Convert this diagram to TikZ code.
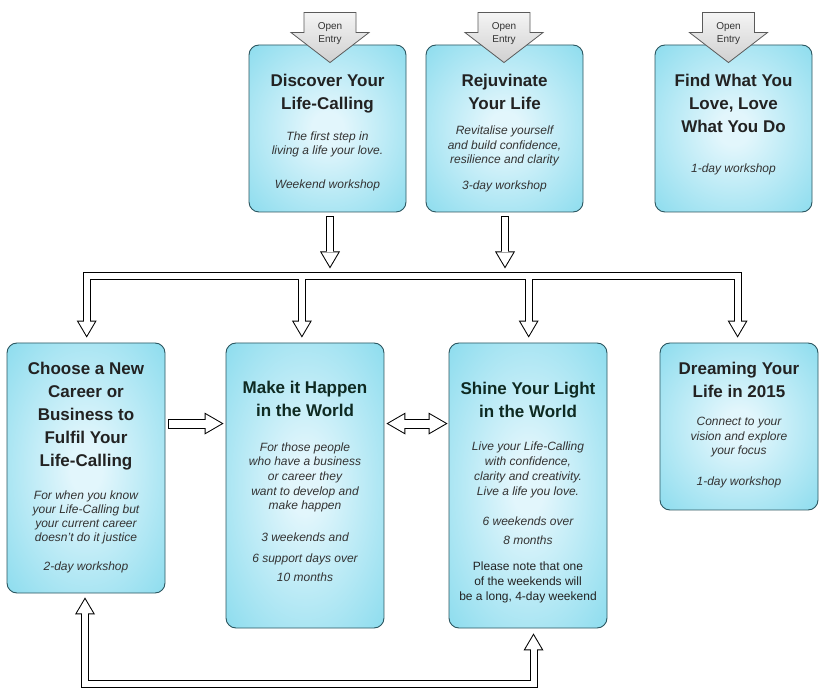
\documentclass[tikz,border=0pt]{standalone}
\usepackage{fontspec}
\setmainfont{Liberation Sans}
\usetikzlibrary{arrows.meta,calc}
\definecolor{boxin}{HTML}{E2F6FC}
\definecolor{boxout}{HTML}{7BD7EB}
\definecolor{boxline}{HTML}{2B5660}
\definecolor{titlecol}{HTML}{222222}
\definecolor{titlegreen}{HTML}{0E2A22}
\definecolor{desccol}{HTML}{333333}
\definecolor{entrytop}{HTML}{F4F4F4}
\definecolor{entrybot}{HTML}{D0D0D0}
\definecolor{entryline}{HTML}{5A5A5A}
\pgfdeclareradialshading{boxshade}{\pgfpoint{0bp}{0bp}}{color(0bp)=(boxin); color(5bp)=(boxin); color(42bp)=(boxout); color(50bp)=(boxout)}
\newcommand\openentry[3]{%
  \coordinate (#3-c) at ($(#1.north)+(#2,0)$);
  \draw[entryarrow] ($(#3-c)+(-26,-32)$) -- ($(#3-c)+(26,-32)$) -- ($(#3-c)+(26,-12)$) -- ($(#3-c)+(39,-12)$) -- ($(#3-c)+(0,18)$) -- ($(#3-c)+(-39,-12)$) -- ($(#3-c)+(-26,-12)$) -- cycle;
  \node[entrytext] (#3) at ($(#3-c)+(0,-11)$) {Open\\Entry};
}
\begin{document}
\begin{tikzpicture}[x=1pt,y=-1pt,
  box/.style={draw=boxline, line width=0.9pt, rounded corners=10pt, shading=boxshade, inner sep=0pt},
  title/.style={font=\fontsize{17}{23}\selectfont\bfseries, text=titlecol, align=center, anchor=base, inner sep=0pt},
  gtitle/.style={title, text=titlegreen},
  desc/.style={font=\fontsize{12}{#1}\selectfont\itshape, text=desccol, align=center, anchor=base, inner sep=0pt},
  desc/.default=14.5,
  note/.style={font=\fontsize{12}{15}\selectfont, text=titlecol, align=center, anchor=base, inner sep=0pt},
  entrytext/.style={font=\fontsize{10}{13}\selectfont, text=desccol, align=center, inner sep=0pt},
  entryarrow/.style={draw=entryline, line width=0.8pt, top color=entrytop, bottom color=entrybot, line join=miter},
  blk/.style={draw=black, line width=8pt},
  wht/.style={draw=white, line width=6pt},
  blkh/.style={draw=black, line width=10pt},
  whth/.style={draw=white, line width=8pt},
  bt/.tip={Triangle[length=17pt,width=20pt,line width=0pt]},
  wt/.tip={Triangle[length=14pt,width=16.5pt,line width=0pt]},
  bth/.tip={Triangle[length=19pt,width=22pt,line width=0pt]},
  wth/.tip={Triangle[length=16pt,width=18.5pt,line width=0pt]},
]
\useasboundingbox[fill=white] (0,0) rectangle (820,700);

% boxes
\node[box, minimum width=157pt, minimum height=167pt] (disc) at (327.5,128.5) {};
\node[box, minimum width=157pt, minimum height=167pt] (rejuv) at (504.5,128.5) {};
\node[box, minimum width=157pt, minimum height=167pt] (find) at (733.5,128.5) {};
\node[box, minimum width=158pt, minimum height=250pt] (choose) at (86,468) {};
\node[box, minimum width=158pt, minimum height=285pt] (make) at (305,485.5) {};
\node[box, minimum width=158pt, minimum height=285pt] (shine) at (528,485.5) {};
\node[box, minimum width=158pt, minimum height=167pt] (dream) at (739,426.5) {};

% open entry arrows
\openentry{disc}{2.5}{oe1}
\openentry{rejuv}{-0.5}{oe2}
\openentry{find}{-5}{oe3}

% texts (anchor base = baseline of the last line)
\node[title] (disc-t) at (327.5,110) {Discover Your\\Life-Calling};
\node[desc=14] (disc-d) at (327.5,155) {The first step in\\living a life your love.};
\node[desc] (disc-w) at (327.5,189) {Weekend workshop};
\node[title] (rejuv-t) at (504.5,110) {Rejuvinate\\Your Life};
\node[desc] (rejuv-d) at (504.5,164) {Revitalise yourself\\and build confidence,\\resilience and clarity};
\node[desc] (rejuv-w) at (504.5,190) {3-day workshop};
\node[title] (find-t) at (733.5,133) {Find What You\\Love, Love\\What You Do};
\node[desc] (find-w) at (733.5,173) {1-day workshop};
\node[title] (choose-t) at (86,467) {Choose a New\\Career or\\Business to\\Fulfil Your\\Life-Calling};
\node[desc=14.3] (choose-d) at (86,542) {For when you know\\your Life-Calling but\\your current career\\doesn't do it justice};
\node[desc] (choose-w) at (86,571) {2-day workshop};
\node[gtitle] (make-t) at (305,417) {Make it Happen\\in the World};
\node[desc=14.7] (make-d) at (305,510) {For those people\\who have a business\\or career they\\want to develop and\\make happen};
\node[desc=20] (make-w) at (305,582) {3 weekends and\\6 support days over\\10 months};
\node[gtitle] (shine-t) at (528,418) {Shine Your Light\\in the World};
\node[desc=15] (shine-d) at (528,496) {Live your Life-Calling\\with confidence,\\clarity and creativity.\\Live a life you love.};
\node[desc=19] (shine-w) at (528,545) {6 weekends over\\8 months};
\node[note] (shine-n) at (528,600) {Please note that one\\of the weekends will\\be a long, 4-day weekend};
\node[title] (dream-t) at (739,398) {Dreaming Your\\Life in 2015};
\node[desc] (dream-d) at (739,455) {Connect to your\\vision and explore\\your focus};
\node[desc] (dream-w) at (739,486) {1-day workshop};

% connector coordinates
\coordinate (d1) at ($(disc.south)+(2.5,4)$);
\coordinate (d2) at ($(d1)+(0,52)$);
\coordinate (r1) at ($(rejuv.south)+(0.5,4)$);
\coordinate (r2) at ($(r1)+(0,52)$);
\coordinate (busy) at (0,275.8);
\coordinate (t1) at ($(choose.north)+(0.7,-5)$);
\coordinate (t2) at ($(make.north)+(-3.1,-5)$);
\coordinate (t3) at ($(shine.north)+(0.7,-5)$);
\coordinate (t4) at ($(dream.north)+(-1.4,-5)$);
\coordinate (h1) at ($(choose.north east)+(3,81)$);
\coordinate (h2) at ($(make.north west)+(-2,81)$);
\coordinate (h3) at ($(make.north east)+(2,81)$);
\coordinate (h4) at ($(shine.north west)+(-1,81)$);
\coordinate (la) at ($(choose.south)+(-1,4)$);
\coordinate (lb) at ($(shine.south)+(5.5,5)$);

% black outlines
\draw[blk,-{bt}] (d1) -- (d2);
\draw[blk,-{bt}] (r1) -- (r2);
\draw[blk,{bt}-{bt}] (t1) -- (t1 |- busy) -- (t4 |- busy) -- (t4);
\draw[blk,-{bt}] (t2 |- busy) -- (t2);
\draw[blk,-{bt}] (t3 |- busy) -- (t3);
\draw[blkh,-{bth}] (h1) -- (h2);
\draw[blkh,{bth}-{bth}] (h3) -- (h4);
\draw[blk,{bt}-{bt}] (la) -- ($(la)+(0,86.5)$) -| (lb);
% white interiors
\draw[wht,-{wt},shorten <=1pt,shorten >=2pt] (d1) -- (d2);
\draw[wht,-{wt},shorten <=1pt,shorten >=2pt] (r1) -- (r2);
\draw[wht,{wt}-{wt},shorten <=2pt,shorten >=2pt] (t1) -- (t1 |- busy) -- (t4 |- busy) -- (t4);
\draw[wht,-{wt},shorten >=2pt] (t2 |- busy) -- (t2);
\draw[wht,-{wt},shorten >=2pt] (t3 |- busy) -- (t3);
\draw[whth,-{wth},shorten <=1pt,shorten >=2pt] (h1) -- (h2);
\draw[whth,{wth}-{wth},shorten <=2pt,shorten >=2pt] (h3) -- (h4);
\draw[wht,{wt}-{wt},shorten <=2pt,shorten >=2pt] (la) -- ($(la)+(0,86.5)$) -| (lb);
\end{tikzpicture}
\end{document}
